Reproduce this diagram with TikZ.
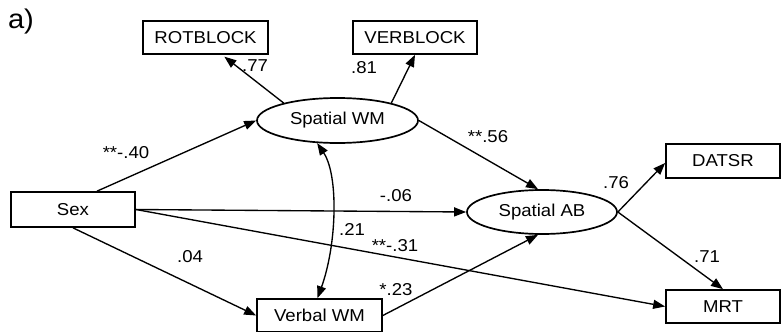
\documentclass[tikz,border=0pt]{standalone}
\usepackage{fontspec}
\setmainfont{Liberation Sans}[FakeStretch=1.08]
\usetikzlibrary{arrows.meta,shapes.geometric}

\begin{document}
\begin{tikzpicture}[x=1pt, y=-1pt]
            \tikzstyle{box} = [draw, line width=1.7pt, rectangle, inner sep=0pt, font=\fontsize{17.2}{20}\selectfont]
            \tikzstyle{latent} = [draw, line width=1.7pt, ellipse, inner sep=0pt, font=\fontsize{17.2}{20}\selectfont]
            \tikzstyle{arr} = [line width=1.35pt, -{Triangle[length=12pt, width=9pt]}]
            \tikzstyle{coef} = [inner sep=0pt, font=\fontsize{17.2}{20}\selectfont]
            \useasboundingbox (0, 0) rectangle (782, 332);
            \node[inner sep=0pt, font=\fontsize{27}{30}\selectfont] (panel) at (21, 22) {a)};
            % observed and latent variables
            \node[box, minimum width=125pt, minimum height=33pt] (rot) at (205.5, 37.5) {ROTBLOCK};
            \node[box, minimum width=124pt, minimum height=33pt] (verb) at (415, 37.5) {VERBLOCK};
            \node[latent, minimum width=161pt, minimum height=45pt] (swm) at (337.5, 120.5) {Spatial WM};
            \node[box, minimum width=124pt, minimum height=35pt] (sex) at (73, 209.5) {Sex};
            \node[latent, minimum width=150pt, minimum height=44pt] (sab) at (542, 212) {Spatial AB};
            \node[box, minimum width=114pt, minimum height=34pt] (datsr) at (723, 161) {DATSR};
            \node[box, minimum width=114pt, minimum height=33pt] (mrt) at (723, 306.5) {MRT};
            \node[box, minimum width=125pt, minimum height=33pt] (vwm) at (319.5, 315.5) {Verbal WM};
            % paths
            \draw[arr, shorten >=3pt] (swm.162) -- ([xshift=16.5pt]rot.south);
            \draw[arr] (swm.18) -- (verb.south);
            \draw[arr] ([xshift=24pt]sex.north) -- (swm.west);
            \draw[arr] (swm.east) -- ([xshift=-4pt]sab.north);
            \draw[arr] (sex.east) -- (sab.west);
            \draw[arr] (sex.east) -- (mrt.west);
            \draw[arr] (sex.south) -- (vwm.west);
            \draw[arr] (vwm.east) -- ([xshift=-4pt]sab.south);
            \draw[arr] (sab.east) -- ([yshift=-2pt]datsr.west);
            \draw[arr] (sab.east) -- (mrt.north);
            \draw[arr, {Triangle[length=12pt, width=9pt]}-{Triangle[length=12pt, width=9pt]}] (swm.228) .. controls +(21.5, 32) and +(19.5, -54) .. ([xshift=-2pt]vwm.north);
            % coefficients
            \node[coef] (c77) at (255, 66) {.77};
            \node[coef] (c81) at (364, 68) {.81};
            \node[coef] (c40) at (126, 153) {**-.40};
            \node[coef] (c56) at (488, 137) {**.56};
            \node[coef] (c06) at (396, 196) {-.06};
            \node[coef] (c21) at (352, 229) {.21};
            \node[coef] (c31) at (395, 246) {**-.31};
            \node[coef] (c04) at (190, 257) {.04};
            \node[coef] (c23) at (396, 290) {*.23};
            \node[coef] (c76) at (616, 183) {.76};
            \node[coef] (c71) at (707, 257) {.71};
        \end{tikzpicture}
\end{document}
